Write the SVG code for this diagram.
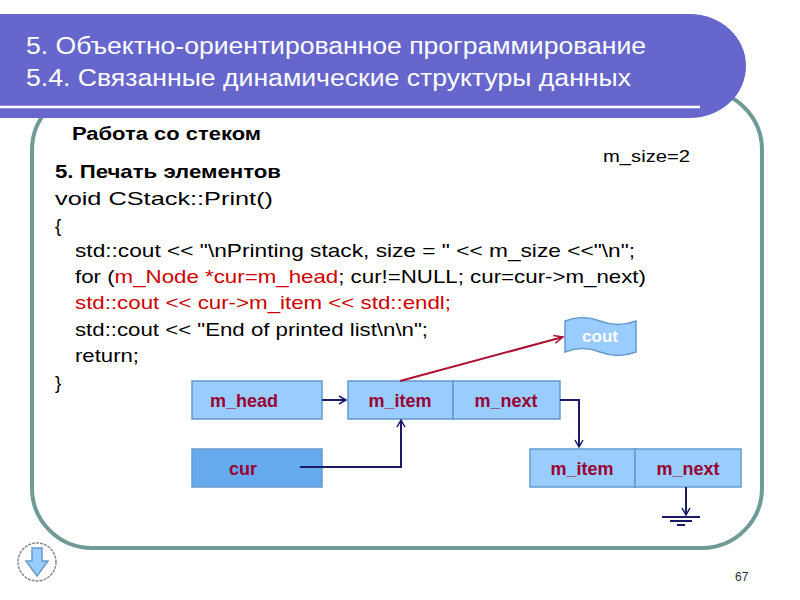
<svg xmlns="http://www.w3.org/2000/svg" width="800" height="600" viewBox="0 0 800 600">
<style>
text{font-family:"Liberation Sans",Arial,sans-serif}
.code{font-size:19px;fill:#000}
.red{fill:#cc0000}
.box{fill:#99ccff;stroke:#6699cc;stroke-width:1.5}
.lbl{font-size:18px;font-weight:bold;fill:#990033;text-anchor:middle}
.ln{stroke:#1a1a66;stroke-width:2;fill:none}
</style>
<defs>
<marker id="a" markerWidth="10" markerHeight="10" refX="8" refY="5" orient="auto" markerUnits="userSpaceOnUse"><path d="M1,1 L8,5 L1,9" fill="none" stroke="#1a1a66" stroke-width="1.5"/></marker>
<marker id="r" markerWidth="12" markerHeight="10" refX="10" refY="5" orient="auto" markerUnits="userSpaceOnUse"><path d="M1,1 L10,5 L1,9" fill="none" stroke="#aa1133" stroke-width="1.5"/></marker>
</defs>
<rect width="800" height="600" fill="#fff"/>
<rect x="32" y="90" width="730" height="458" rx="60" fill="#fff" stroke="#6f9a96" stroke-width="4"/>
<path d="M0,14 H690 A56,52 0 0 1 690,118 H0 Z" fill="#6666cc"/>
<line x1="0" y1="107" x2="700" y2="107" stroke="#fff" stroke-width="2.5"/>
<text x="26" y="54" font-size="23" fill="#fff" textLength="620" lengthAdjust="spacingAndGlyphs">5. Объектно-ориентированное программирование</text>
<text x="26" y="86" font-size="23" fill="#fff" textLength="605" lengthAdjust="spacingAndGlyphs">5.4. Связанные динамические структуры данных</text>
<text x="72" y="140" font-size="18" font-weight="bold" textLength="189" lengthAdjust="spacingAndGlyphs">Работа со стеком</text>
<text x="603" y="162" font-size="17" textLength="87" lengthAdjust="spacingAndGlyphs">m_size=2</text>
<text x="55" y="178" class="code" font-weight="bold" font-size="18" textLength="226" lengthAdjust="spacingAndGlyphs">5. Печать элементов</text>
<text x="55" y="205" class="code" textLength="218" lengthAdjust="spacingAndGlyphs">void CStack::Print()</text>
<text x="55" y="232" class="code">{</text>
<text x="75" y="257" class="code" textLength="560" lengthAdjust="spacingAndGlyphs">std::cout &lt;&lt; "\nPrinting stack, size = " &lt;&lt; m_size &lt;&lt;"\n";</text>
<text x="75" y="283" class="code" textLength="571" lengthAdjust="spacingAndGlyphs">for (<tspan class="red">m_Node *cur=m_head</tspan>; cur!=NULL; cur=cur-&gt;m_next)</text>
<text x="75" y="309" class="code red" textLength="376" lengthAdjust="spacingAndGlyphs">std::cout &lt;&lt; cur-&gt;m_item &lt;&lt; std::endl;</text>
<text x="75" y="336" class="code" textLength="353" lengthAdjust="spacingAndGlyphs">std::cout &lt;&lt; "End of printed list\n\n";</text>
<text x="75" y="362" class="code" textLength="64" lengthAdjust="spacingAndGlyphs">return;</text>
<text x="55" y="389" class="code">}</text>
<g id="cout"><path d="M565,321 Q583,314 600,321 Q618,328 636,321 V352 Q618,359 600,352 Q583,345 565,352 Z" fill="#99ccff" stroke="#6699cc" stroke-width="1.5"/><text x="600" y="342" font-size="17" font-weight="bold" fill="#fff" text-anchor="middle">cout</text></g>
<g id="m_head"><rect class="box" x="192" y="381" width="130" height="38"/><text class="lbl" x="244" y="407">m_head</text></g>
<g id="node1"><rect class="box" x="348" y="381" width="105" height="38"/><rect class="box" x="453" y="381" width="107" height="38"/><text class="lbl" x="400" y="407">m_item</text><text class="lbl" x="506" y="407">m_next</text></g>
<g id="cur"><rect x="192" y="449" width="130" height="38" fill="#66aaee" stroke="#6699cc" stroke-width="1.5"/><text class="lbl" x="243" y="475">cur</text></g>
<g id="node2"><rect class="box" x="530" y="449" width="105" height="38"/><rect class="box" x="635" y="449" width="106" height="38"/><text class="lbl" x="582" y="475">m_item</text><text class="lbl" x="688" y="475">m_next</text></g>
<g id="connectors">
<line class="ln" x1="322" y1="400" x2="346" y2="400" marker-end="url(#a)"/>
<polyline class="ln" points="300,467 401,467 401,420" marker-end="url(#a)"/>
<polyline class="ln" points="560,400 579,400 579,447" marker-end="url(#a)"/>
<line class="ln" x1="686" y1="487" x2="686" y2="515" marker-end="url(#a)"/>
<line class="ln" x1="662" y1="517" x2="700" y2="517"/>
<line class="ln" x1="670" y1="521" x2="692" y2="521"/>
<line class="ln" x1="677" y1="525" x2="685" y2="525"/>
<line x1="400" y1="381" x2="563" y2="337" stroke="#aa1133" stroke-width="2" marker-end="url(#r)"/>
</g>
<g id="nav"><ellipse cx="37" cy="562" rx="19" ry="19" fill="none" stroke="#889" stroke-width="1.5" stroke-dasharray="3,1"/><path d="M32,548 H42 V561 H48 L37,576 L26,561 H32 Z" fill="#99ccff" stroke="#6699cc" stroke-width="1.5"/></g>
<text x="735" y="581" font-size="12" fill="#333">67</text>
</svg>
